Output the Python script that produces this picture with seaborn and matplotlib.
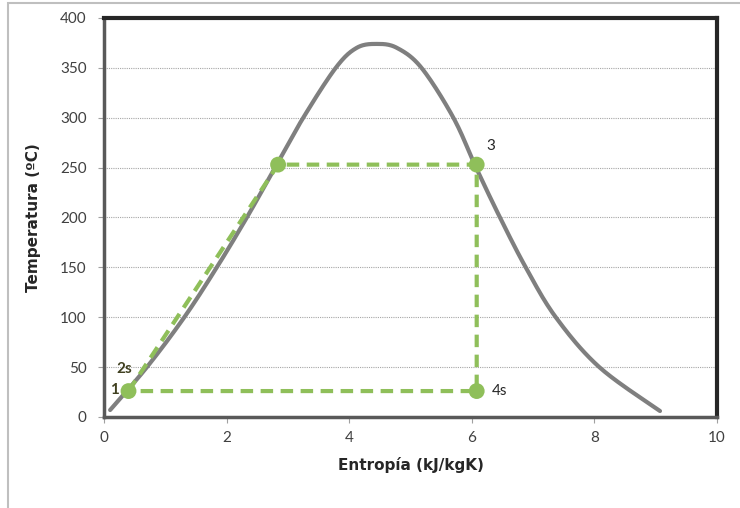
import numpy as np
import pandas as pd
import matplotlib
matplotlib.use("Agg")
import matplotlib.pyplot as plt
import matplotlib.patches as mpatches
import seaborn as sns

# --- datos leídos del gráfico / values ---
# curva de saturación (líquido + vapor)
dome_s = [0.10, 0.70, 1.31, 1.84, 2.33, 2.79, 3.25, 3.78, 4.12, 4.45,
          4.78, 5.18, 5.70, 6.07, 6.46, 6.88, 7.37, 8.08, 9.07]
dome_T = [7, 50, 100, 150, 200, 250, 300, 350, 370, 374,
          370, 350, 300, 250, 200, 150, 100, 50, 6]

# ciclo Rankine
cycle_s = [0.40, 2.84, 6.08, 6.08, 0.40]
cycle_T = [26, 253, 253, 26, 26]
point_s = [0.40, 2.84, 6.08, 6.08]
point_T = [26, 253, 253, 26]

yticks = [0, 50, 100, 150, 200, 250, 300, 350, 400]
xticks = [0, 2, 4, 6, 8, 10]


def suavizar(x, y, n=20):
    # línea suavizada tipo Excel (Catmull-Rom) que pasa por los puntos
    p = np.column_stack([x, y]).astype(float)
    p = np.vstack([p[0], p, p[-1]])
    out = []
    t = np.linspace(0, 1, n, endpoint=False)[:, None]
    for i in range(1, len(p) - 2):
        p0, p1, p2, p3 = p[i - 1], p[i], p[i + 1], p[i + 2]
        seg = 0.5 * ((2 * p1) + (-p0 + p2) * t + (2 * p0 - 5 * p1 + 4 * p2 - p3) * t ** 2
                     + (-p0 + 3 * p1 - 3 * p2 + p3) * t ** 3)
        out.append(seg)
    out.append(p[-2][None, :])
    out = np.vstack(out)
    return out[:, 0], out[:, 1]


sns.set_theme(style="white")
plt.rcParams['font.family'] = ['Lato', 'DejaVu Sans']

fig = plt.figure(figsize=(7.4, 5.08), dpi=100)
ax = fig.add_axes([104 / 740, 1 - 417 / 508, 613 / 740, 399 / 508])

# borde del área del gráfico
fig.patches.append(mpatches.Rectangle((8 / 740, -0.1), 1.2, 1 - 3 / 508 + 0.1,
                                      transform=fig.transFigure, fill=False,
                                      edgecolor='#bfbfbf', linewidth=1.5))

xs, ys = suavizar(dome_s, dome_T)
dome = pd.DataFrame({'s': xs, 'T': ys})
sns.lineplot(data=dome, x='s', y='T', ax=ax, color='#7f7f7f', linewidth=3,
             sort=False, estimator=None, zorder=3)

cycle = pd.DataFrame({'s': cycle_s, 'T': cycle_T})
sns.lineplot(data=cycle, x='s', y='T', ax=ax, color='#8fbf5a', linewidth=3,
             sort=False, estimator=None, zorder=4, dashes=False,
             linestyle=(0, (3, 1.8)))
sns.scatterplot(x=point_s, y=point_T, ax=ax, color='#8fbf5a', s=130,
                edgecolor='none', zorder=5)

ax.text(0.10, 27, '1', fontsize=11, fontweight='bold', color='#404020',
        ha='left', va='center', zorder=6)
ax.text(0.21, 48, '2s', fontsize=11, fontweight='bold', color='#404020',
        ha='left', va='center', zorder=6)
ax.text(6.24, 272, '3', fontsize=11, color='#262626', ha='left', va='center')
ax.text(6.33, 26, '4s', fontsize=11, color='#262626', ha='left', va='center')

ax.set_xlim(0, 10)
ax.set_ylim(0, 400)
ax.set_xticks(xticks)
ax.set_yticks(yticks)
ax.tick_params(axis='both', labelsize=11, labelcolor='#404040', length=4,
               direction='out', width=0.8, bottom=True, left=True,
               color='#a0a0a0')
ax.tick_params(axis='y', pad=8.5)
ax.tick_params(axis='x', pad=6)
ax.yaxis.grid(True, color='#a6a6a6', linestyle=(0, (1, 1)), linewidth=0.8)
ax.set_axisbelow(True)

for side in ['top', 'right']:
    ax.spines[side].set_color('#262626')
    ax.spines[side].set_linewidth(3)
for side in ['left', 'bottom']:
    ax.spines[side].set_color('#595959')
    ax.spines[side].set_linewidth(2.5)

ax.set_xlabel('Entropía (kJ/kgK)', fontsize=11, fontweight='bold', color='#262626',
              labelpad=9, family='DejaVu Sans')
ax.set_ylabel('Temperatura (ºC)', fontsize=11, fontweight='bold', color='#262626',
              labelpad=14, family='DejaVu Sans')

fig.savefig('out.png', dpi=100)
